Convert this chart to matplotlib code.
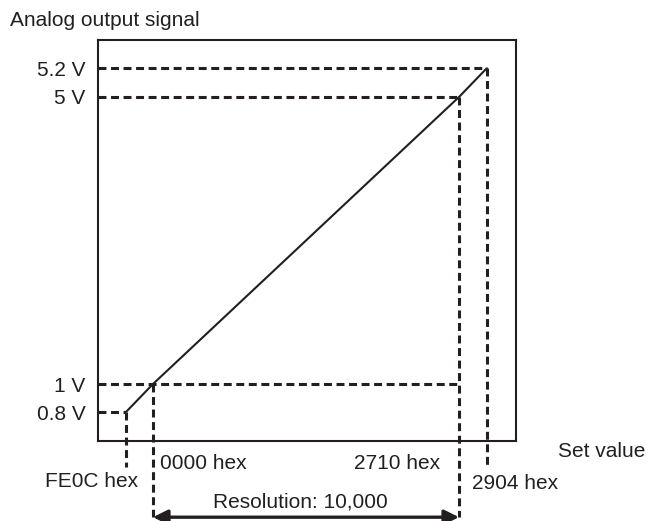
import numpy as np
import matplotlib
matplotlib.use('Agg')
import matplotlib.pyplot as plt
from matplotlib.transforms import blended_transform_factory

plt.rcParams['font.family'] = ['Liberation Sans', 'DejaVu Sans']

# set values (signed, FE0C hex = -500) and output voltages
set_values = [-500, 0, 10000, 10500]
set_labels = ['FE0C hex', '0000 hex', '2710 hex', '2904 hex']
volts = [0.8, 1.0, 5.0, 5.2]
volt_labels = ['0.8 V', '1 V', '5 V', '5.2 V']

# the diagram stretches the over/under range, so axes are piecewise linear
x_knots = [-1000, -500, 0, 10000, 10500, 11000]
x_pos = [0, 28, 55, 361, 389, 418]
y_knots = [0.6, 0.8, 1.0, 5.0, 5.2, 5.4]
y_pos = [0, 29, 57, 344, 373, 401]


def piecewise(a, b):
    return lambda v: np.interp(v, a, b)


ink = '#231f20'
dash = (0, (2.6, 1.5))
fs = 15

fig = plt.figure(figsize=(6.48, 5.21), dpi=100)
ax = fig.add_axes([98 / 648, 1 - 441 / 521, 418 / 648, 401 / 521])
ax.set_xscale('function', functions=(piecewise(x_knots, x_pos), piecewise(x_pos, x_knots)))
ax.set_yscale('function', functions=(piecewise(y_knots, y_pos), piecewise(y_pos, y_knots)))
ax.set_xlim(x_knots[0], x_knots[-1])
ax.set_ylim(y_knots[0], y_knots[-1])

for s in ax.spines.values():
    s.set_linewidth(1.5)
    s.set_color(ink)

ax.set_xticks([])
ax.set_yticks(volts, volt_labels, fontsize=fs, color=ink)
ax.tick_params(axis='y', length=0, pad=9)

# characteristic line
ax.plot(set_values, volts, color=ink, lw=1.5, solid_capstyle='butt')

# horizontal guides
h_end = [set_values[0], set_values[2], set_values[2], set_values[3]]
for v, xe in zip(volts, h_end):
    ax.plot([x_knots[0], xe], [v, v], color=ink, lw=2.2, linestyle=dash)

# vertical guides, extending below the axes
bt = blended_transform_factory(ax.transData, ax.transAxes)
v_bottom = [-0.065, -0.19, -0.19, -0.062]
for x, v, yb in zip(set_values, volts, v_bottom):
    yfrac = np.interp(v, y_knots, y_pos) / y_pos[-1]
    ax.plot([x, x], [yfrac, yb], color=ink, lw=2.2, linestyle=dash,
            transform=bt, clip_on=False)

# set value labels
ax.text(-280, -0.102, set_labels[0], transform=bt, ha='right', va='center',
        fontsize=fs, color=ink)
ax.text(229, -0.055, set_labels[1], transform=bt, ha='left', va='center',
        fontsize=fs, color=ink)
ax.text(9379, -0.055, set_labels[2], transform=bt, ha='right', va='center',
        fontsize=fs, color=ink)
ax.text(10232, -0.105, set_labels[3], transform=bt, ha='left', va='center',
        fontsize=fs, color=ink)

# resolution arrow
ax.annotate('', xy=(set_values[1], -0.19), xytext=(set_values[2], -0.19),
            xycoords=bt, textcoords=bt, annotation_clip=False,
            arrowprops=dict(arrowstyle='<|-|>', color=ink, lw=2.4,
                            mutation_scale=22, shrinkA=0, shrinkB=0))
ax.text(4804, -0.152, 'Resolution: 10,000', transform=bt, ha='center', va='center',
        fontsize=fs, color=ink)

ax.text(1.10, -0.025, 'Set value', transform=ax.transAxes, ha='left', va='center',
        fontsize=fs, color=ink)
fig.text(10 / 648, 1 - 20 / 521, 'Analog output signal', ha='left', va='center',
         fontsize=fs, color=ink)

fig.savefig('out.png', dpi=100)
